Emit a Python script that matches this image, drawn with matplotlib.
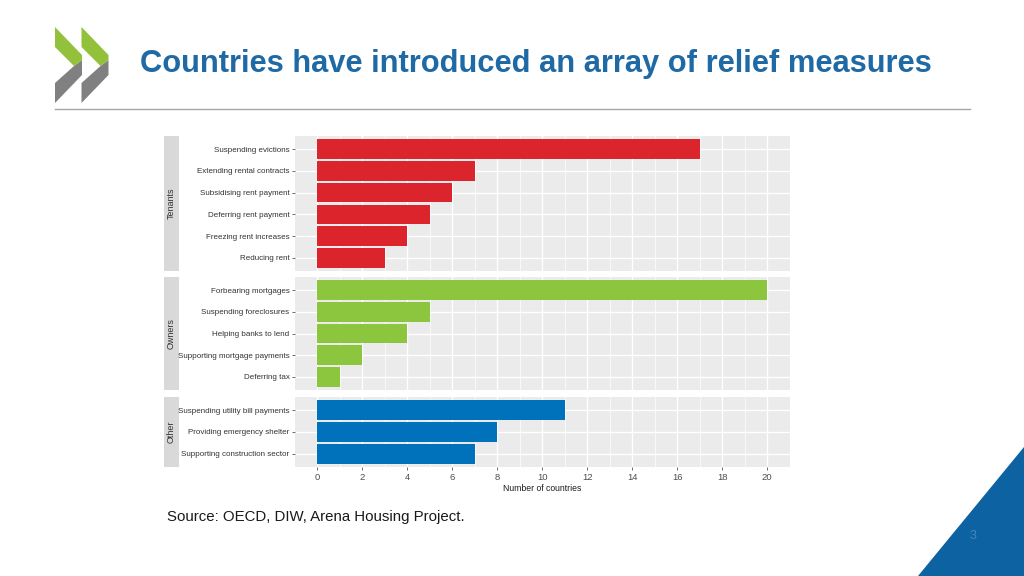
import matplotlib
matplotlib.use("Agg")
import matplotlib.pyplot as plt
from matplotlib.patches import Polygon, Rectangle

W, H = 1024, 576

# 数据
tenants_labels = ["Suspending evictions", "Extending rental contracts", "Subsidising rent payment",
                  "Deferring rent payment", "Freezing rent increases", "Reducing rent"]
tenants_values = [17, 7, 6, 5, 4, 3]
owners_labels = ["Forbearing mortgages", "Suspending foreclosures", "Helping banks to lend",
                 "Supporting mortgage payments", "Deferring tax"]
owners_values = [20, 5, 4, 2, 1]
other_labels = ["Suspending utility bill payments", "Providing emergency shelter",
                "Supporting construction sector"]
other_values = [11, 8, 7]
group_names = ["Tenants", "Owners", "Other"]
group_colors = ["#DC242D", "#8CC63F", "#0072BC"]
x_ticks = [0, 2, 4, 6, 8, 10, 12, 14, 16, 18, 20]

NARROW = ["Liberation Sans Narrow", "Liberation Sans", "DejaVu Sans"]
plt.rcParams['font.family'] = ["Liberation Sans", "DejaVu Sans"]


def px_box(x0, y0, x1, y1):
    # 像素坐标 -> figure 坐标
    return [x0 / W, 1 - y1 / H, (x1 - x0) / W, (y1 - y0) / H]


fig = plt.figure(figsize=(W / 100, H / 100), dpi=100)
fig.patch.set_facecolor("white")

# 背景层：logo、标题线、右下角三角
bg = fig.add_axes([0, 0, 1, 1])
bg.set_xlim(0, W)
bg.set_ylim(H, 0)
bg.axis("off")
for dx in (0, 26.5):
    grey = [(55 + dx, 83), (55 + dx, 103), (82 + dx, 75), (82 + dx, 60), (74 + dx, 66)]
    green = [(55 + dx, 27), (82 + dx, 55), (82 + dx, 60), (74 + dx, 66), (55 + dx, 47)]
    bg.add_patch(Polygon(grey, closed=True, color="#808080", lw=0))
    bg.add_patch(Polygon(green, closed=True, color="#93C13B", lw=0))
bg.plot([55, 970], [109, 109], color="#A6A6A6", lw=1)
bg.add_patch(Polygon([(918, 576), (1024, 447), (1024, 576)], closed=True, color="#0D62A2", lw=0))

fig.text(140 / W, 1 - 64 / H, "Countries have introduced an array of relief measures",
         fontsize=22.2, fontweight="bold", color="#1F6AA5", family=NARROW, va="center", ha="left")
fig.text(167 / W, 1 - 517 / H, "Source: OECD, DIW, Arena Housing Project.",
         fontsize=10.8, color="#1A1A1A", va="center", ha="left")
fig.text(973 / W, 1 - 536 / H, "3", fontsize=9, color="#4A86BA", va="center", ha="center")

groups = [(tenants_labels, tenants_values), (owners_labels, owners_values), (other_labels, other_values)]
panel_rows = [(136, 271), (277, 390), (397, 467)]

for gi, ((labels, values), (y0, y1)) in enumerate(zip(groups, panel_rows)):
    ax = fig.add_axes(px_box(295, y0, 789.5, y1))
    n = len(labels)
    pos = list(range(n))
    ax.barh(pos, values, height=0.9, color=group_colors[gi], zorder=3)
    ax.set_facecolor("#EBEBEB")
    ax.set_xlim(-1, 21)
    ax.set_ylim(n - 1 + 0.6, -0.6)
    ax.set_yticks(pos)
    ax.set_yticklabels(labels, family=NARROW, fontsize=5.8, color="#333333")
    ax.set_xticks(x_ticks)
    ax.set_xticks([1, 3, 5, 7, 9, 11, 13, 15, 17, 19], minor=True)
    ax.grid(True, which="major", color="white", lw=1.0, zorder=0)
    ax.grid(True, which="minor", axis="x", color="white", lw=0.5, zorder=0)
    ax.tick_params(axis="both", which="major", length=2.5, width=0.6, color="#555555", pad=1.5)
    ax.tick_params(axis="both", which="minor", length=0)
    for s in ax.spines.values():
        s.set_visible(False)
    if gi < 2:
        ax.tick_params(axis="x", which="major", labelbottom=False, length=0)
    else:
        ax.set_xticklabels([str(t) for t in x_ticks], family=NARROW, fontsize=6.8, color="#4D4D4D")
        ax.set_xlabel("Number of countries", family=NARROW, fontsize=6.2, color="#1A1A1A", labelpad=2)
    # 分面标签
    bg.add_patch(Rectangle((164, y0), 15, y1 - y0, color="#D9D9D9", lw=0))
    bg.text(171.5, (y0 + y1) / 2, group_names[gi], rotation=90, ha="center", va="center",
            fontsize=6.5, color="#333333", family=NARROW)

fig.savefig("out.png", dpi=100)
